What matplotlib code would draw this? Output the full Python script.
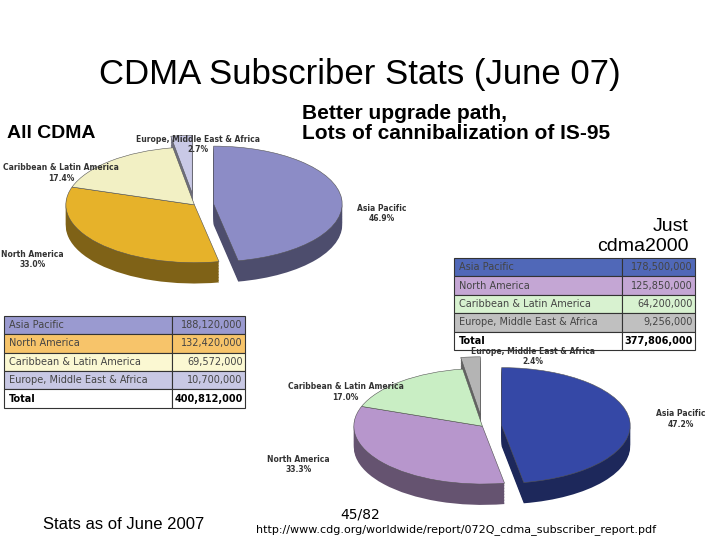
import numpy as np
import matplotlib.pyplot as plt
import matplotlib.colors as mcolors

regions = ["Asia Pacific", "North America", "Caribbean & Latin America", "Europe, Middle East & Africa"]
all_cdma = [188120000, 132420000, 69572000, 10700000]
cdma2000 = [178500000, 125850000, 64200000, 9256000]
all_total = "400,812,000"
c2k_total = "377,806,000"

left_colors = ["#8c8cc6", "#e6b22a", "#f2f0c4", "#c9c9e6"]
left_rows = ["#9a9ad0", "#f7c46a", "#fbf8d2", "#c8c8e4"]
right_colors = ["#3548a6", "#b796cc", "#c9eec4", "#b4b4b4"]
right_rows = ["#5068b8", "#c4a6d4", "#d8f2d0", "#c0c0c0"]

fig = plt.figure(figsize=(7.2, 5.4), dpi=100)
fig.text(0.5, 0.845, "CDMA Subscriber Stats (June 07)", ha="center", fontsize=25, family="Liberation Sans")
fig.text(0.01, 0.745, "All CDMA", fontsize=14, weight="bold", family="Liberation Sans")
fig.text(0.42, 0.742, "Better upgrade path,\nLots of cannibalization of IS-95", fontsize=15,
         weight="bold", family="Liberation Sans", linespacing=1.1)
fig.text(0.957, 0.535, "Just\ncdma2000", fontsize=14, ha="right", family="Liberation Sans", linespacing=1.2)
fig.text(0.06, 0.02, "Stats as of June 2007", fontsize=12, family="Liberation Sans")
fig.text(0.5, 0.04, "45/82", fontsize=10, ha="center")
fig.text(0.355, 0.015, "http://www.cdg.org/worldwide/report/072Q_cdma_subscriber_report.pdf", fontsize=8)


def pie3d(rect, vals, colors, explode, labels):
    ax = fig.add_axes(rect)
    dark = [mcolors.to_rgb(c) for c in colors]
    dark = [tuple(v * 0.55 for v in c) for c in dark]
    for k in np.linspace(0.36, 0.02, 14):
        ax.pie(vals, colors=dark, startangle=90, counterclock=False, explode=explode,
               center=(0, -k), wedgeprops=dict(linewidth=0))
    ax.pie(vals, colors=colors, startangle=90, counterclock=False, explode=explode,
           wedgeprops=dict(edgecolor="#555555", linewidth=0.4))
    ax.set_xlim(-1.3, 1.3)
    ax.set_ylim(-1.5, 1.3)
    ax.set_aspect(0.45)
    ax.axis("off")
    for (x, y, t) in labels:
        fig.text(x, y, t, fontsize=5.5, weight="bold", color="#333333", ha="center")
    return ax


pct_l = [v / sum(all_cdma) * 100 for v in all_cdma]
pie3d([-0.03, 0.46, 0.6, 0.3], all_cdma, left_colors, [0.15, 0, 0, 0.2],
      [(0.53, 0.59, f"Asia Pacific\n{pct_l[0]:.1f}%"), (0.045, 0.505, f"North America\n{pct_l[1]:.1f}%"),
       (0.085, 0.665, f"Caribbean & Latin America\n{pct_l[2]:.1f}%"),
       (0.275, 0.718, f"Europe, Middle East & Africa\n{pct_l[3]:.1f}%")])

pct_r = [v / sum(cdma2000) * 100 for v in cdma2000]
pie3d([0.37, 0.05, 0.6, 0.3], cdma2000, right_colors, [0.15, 0, 0, 0.2],
      [(0.945, 0.21, f"Asia Pacific\n{pct_r[0]:.1f}%"), (0.415, 0.125, f"North America\n{pct_r[1]:.1f}%"),
       (0.48, 0.26, f"Caribbean & Latin America\n{pct_r[2]:.1f}%"),
       (0.74, 0.325, f"Europe, Middle East & Africa\n{pct_r[3]:.1f}%")])


def table(rect, vals, rows, total):
    ax = fig.add_axes(rect)
    ax.axis("off")
    cells = [[r, f"{v:,}"] for r, v in zip(regions, vals)] + [["Total", total]]
    colours = [[c, c] for c in rows] + [["white", "white"]]
    tb = ax.table(cellText=cells, cellColours=colours, colWidths=[0.7, 0.3], loc="center",
                  bbox=[0, 0, 1, 1])
    tb.auto_set_font_size(False)
    for (r, c), cell in tb.get_celld().items():
        cell.set_fontsize(7)
        cell.set_edgecolor("#333333")
        cell.set_linewidth(0.8)
        cell.get_text().set_ha("left" if c == 0 else "right")
        cell.PAD = 0.03
        if r == 4:
            cell.get_text().set_weight("bold")
        else:
            cell.get_text().set_color("#444444")


table([0.005, 0.245, 0.335, 0.17], all_cdma, left_rows, all_total)
table([0.63, 0.352, 0.335, 0.17], cdma2000, right_rows, c2k_total)

fig.savefig("out.png", dpi=100)
